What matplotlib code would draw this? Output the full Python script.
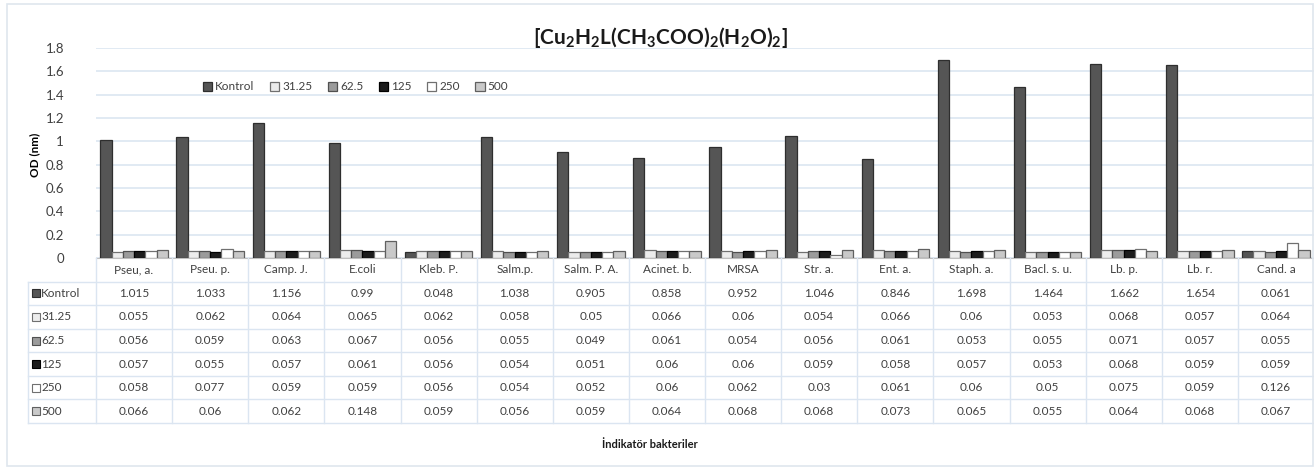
import numpy as np
import matplotlib
matplotlib.use("Agg")
import matplotlib.pyplot as plt
from matplotlib.patches import Rectangle

plt.rcParams['font.family'] = ['Lato', 'DejaVu Sans']
plt.rcParams['mathtext.fontset'] = 'custom'
plt.rcParams['mathtext.rm'] = 'Lato'
plt.rcParams['mathtext.bf'] = 'Lato:bold'

# bacteria (x categories)
categories = ['Pseu, a.', 'Pseu. p.', 'Camp. J.', 'E.coli', 'Kleb. P.', 'Salm.p.',
              'Salm. P. A.', 'Acinet. b.', 'MRSA', 'Str. a.', 'Ent. a.', 'Staph. a.',
              'Bacl. s. u.', 'Lb. p.', 'Lb. r.', 'Cand. a']

series_names = ['Kontrol', '31.25', '62.5', '125', '250', '500']

kontrol = [1.015, 1.033, 1.156, 0.99, 0.048, 1.038, 0.905, 0.858, 0.952, 1.046,
           0.846, 1.698, 1.464, 1.662, 1.654, 0.061]
c31_25 = [0.055, 0.062, 0.064, 0.065, 0.062, 0.058, 0.05, 0.066, 0.06, 0.054,
          0.066, 0.06, 0.053, 0.068, 0.057, 0.064]
c62_5 = [0.056, 0.059, 0.063, 0.067, 0.056, 0.055, 0.049, 0.061, 0.054, 0.056,
         0.061, 0.053, 0.055, 0.071, 0.057, 0.055]
c125 = [0.057, 0.055, 0.057, 0.061, 0.056, 0.054, 0.051, 0.06, 0.06, 0.059,
        0.058, 0.057, 0.053, 0.068, 0.059, 0.059]
c250 = [0.058, 0.077, 0.059, 0.059, 0.056, 0.054, 0.052, 0.06, 0.062, 0.03,
        0.061, 0.06, 0.05, 0.075, 0.059, 0.126]
c500 = [0.066, 0.06, 0.062, 0.148, 0.059, 0.056, 0.059, 0.064, 0.068, 0.068,
        0.073, 0.065, 0.055, 0.064, 0.068, 0.067]

all_series = [kontrol, c31_25, c62_5, c125, c250, c500]
face = ['#555555', '#ececec', '#9b9b9b', '#1c1c1c', '#ffffff', '#c9c9c9']
edge = ['#2e2e2e', '#707070', '#505050', '#000000', '#707070', '#606060']

W, H = 1314, 470
fig = plt.figure(figsize=(W / 100, H / 100), dpi=100)
fig.patch.set_facecolor('white')

# outer chart frame
fig.patches.append(Rectangle((7 / W, 4 / H), (W - 8) / W, (H - 8) / H,
                             transform=fig.transFigure, fill=False,
                             edgecolor='#dfe6ee', lw=1.2))

x0, x1 = 96, 1314
y_top, y_zero, y_tab = 48, 258, 423
ax = fig.add_axes([x0 / W, 1 - y_zero / H, (x1 - x0) / W, (y_zero - y_top) / H])

n = len(categories)
x = np.arange(n)
bw = 0.148
for i, (vals, fc, ec) in enumerate(zip(all_series, face, edge)):
    ax.bar(x + (i - 2.5) * bw, vals, width=bw, color=fc, edgecolor=ec,
           linewidth=0.9, label=series_names[i], zorder=3)

ax.set_xlim(-0.5, n - 0.5)
ax.set_ylim(0, 1.8)
ax.set_yticks(np.arange(0, 1.81, 0.2))
ax.set_yticklabels(['0', '0.2', '0.4', '0.6', '0.8', '1', '1.2', '1.4', '1.6', '1.8'])
ax.tick_params(axis='y', length=0, labelsize=9.5, colors='#404040', pad=23)
ax.set_xticks([])
ax.grid(axis='y', color='#dce6f1', lw=1.2, zorder=0)
for s in ['top', 'right', 'left']:
    ax.spines[s].set_visible(False)
ax.spines['bottom'].set_color('#bfbfbf')
ax.set_ylabel('OD (nm)', fontsize=8.5, fontweight='bold', labelpad=2)
ax.yaxis.set_label_coords(-0.046, 0.49)

ax.legend(loc='center left', bbox_to_anchor=(192 / W, 1 - 87 / H),
          bbox_transform=fig.transFigure, ncol=6, frameon=False,
          fontsize=8.5, handlelength=0.8, handleheight=0.8, handletextpad=0.25,
          columnspacing=1.3, labelcolor='#404040')

fig.text(660 / W, 1 - 37 / H,
         r'[Cu$_\mathbf{2}$H$_\mathbf{2}$L(CH$_\mathbf{3}$COO)$_\mathbf{2}$(H$_\mathbf{2}$O)$_\mathbf{2}$]',
         ha='center', va='center', fontsize=15, fontweight='bold', color='#1a1a1a')

# data table under the chart
axt = fig.add_axes([x0 / W, 1 - y_tab / H, (x1 - x0) / W, (y_tab - y_zero) / H])
axt.set_xlim(-0.5, n - 0.5)
axt.set_ylim(7, 0)
axt.axis('off')
grid_c = '#dbe5f1'
label_left = -0.5 - (x0 - 28) / ((x1 - x0) / n)
for k in range(n + 1):
    axt.plot([k - 0.5, k - 0.5], [0, 7], color=grid_c, lw=1, clip_on=False)
axt.plot([label_left, label_left], [1, 7], color=grid_c, lw=1, clip_on=False)
for r in range(1, 8):
    axt.plot([label_left, n - 0.5], [r, r], color=grid_c, lw=1, clip_on=False)

for j, name in enumerate(categories):
    axt.text(j, 0.5, name, ha='center', va='center', fontsize=8.5, color='#404040')
for i, vals in enumerate(all_series):
    for j, v in enumerate(vals):
        axt.text(j, i + 1.5, f'{v:g}', ha='center', va='center', fontsize=8.5,
                 color='#404040')
    # row label with legend key
    yc = 1 - (y_zero + (y_tab - y_zero) / 7 * (i + 1.5)) / H
    fig.patches.append(Rectangle((32 / W, yc - 4 / H), 8 / W, 8 / H,
                                 transform=fig.transFigure, facecolor=face[i],
                                 edgecolor=edge[i], lw=0.8))
    fig.text(41 / W, yc, series_names[i], ha='left', va='center', fontsize=8.5,
             color='#404040')

fig.text(650 / W, 1 - 444 / H, 'İndikatör bakteriler', ha='center', va='center',
         fontsize=8, fontweight='bold', color='#1a1a1a')

fig.savefig('out.png', dpi=100)
